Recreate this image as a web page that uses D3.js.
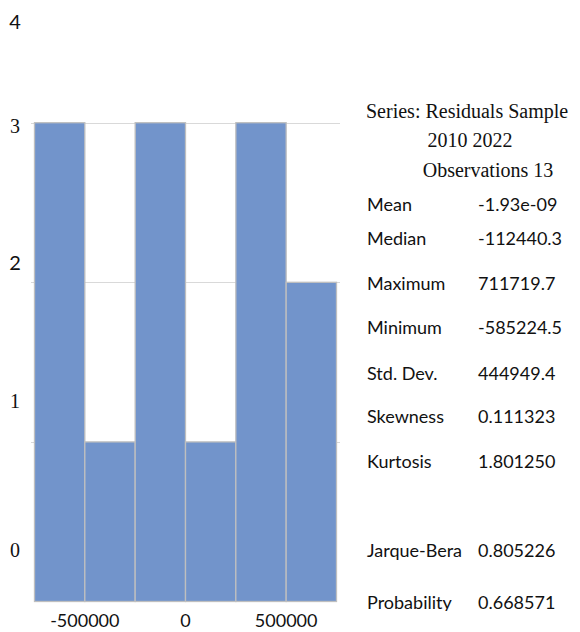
<!DOCTYPE html>
<html>
<head>
<meta charset="utf-8">
<script src="https://d3js.org/d3.v7.min.js"></script>
<style>
  body { margin: 0; background: #fff; }
  svg { display: block; }
</style>
</head>
<body>
<script>
// histogram of residuals
var binEdges = [-750000, -500000, -250000, 0, 250000, 500000, 750000];
var counts = [3, 1, 3, 1, 3, 2];
var yTicks = [0, 1, 2, 3, 4];
var xTicks = [-500000, 0, 500000];

// stats panel
var headerLines = ["Series: Residuals Sample", "2010 2022", "Observations 13"];
var statLabels = ["Mean", "Median", "Maximum", "Minimum", "Std. Dev.", "Skewness", "Kurtosis", "Jarque-Bera", "Probability"];
var statValues = ["-1.93e-09", "-112440.3", "711719.7", "-585224.5", "444949.4", "0.111323", "1.801250", "0.805226", "0.668571"];

var w = 580, h = 632;
var sans = "Lato, 'Open Sans', sans-serif";
var serif = "'Liberation Serif', 'Times New Roman', serif";

var svg = d3.select("body").append("svg").attr("width", w).attr("height", h);

var bins = counts.map((c, i) => ({ x0: binEdges[i], x1: binEdges[i + 1], n: c }));

var x = d3.scaleLinear().domain([binEdges[0], binEdges[binEdges.length - 1]]).range([34.5, 336.5]);
var y = d3.scaleLinear().domain([0, 3]).range([601.5, 122.7]);
// the tick labels sit on their own (uneven) spacing in the source image
var yLabel = d3.scaleLinear().domain(yTicks).range([557, 408, 270, 133, 29]);

// gridlines
svg.append("g").selectAll("line")
    .data(yTicks.filter(d => d > 0 && d <= 3))
    .enter().append("line")
    .attr("x1", 31).attr("x2", 340)
    .attr("y1", d => Math.round(y(d)) + 0.5)
    .attr("y2", d => Math.round(y(d)) + 0.5)
    .attr("stroke", "#d9d9d9")
    .attr("stroke-width", 1);

// bars
svg.append("g").selectAll("rect")
    .data(bins)
    .enter().append("rect")
    .attr("x", d => x(d.x0))
    .attr("width", d => x(d.x1) - x(d.x0))
    .attr("y", d => y(d.n))
    .attr("height", d => y(0) - y(d.n))
    .attr("fill", "#7294cb")
    .attr("stroke", "#bfbfbf")
    .attr("stroke-width", 1.3);

// y labels (mixed fonts as in the original)
svg.append("g").selectAll("text")
    .data(yTicks)
    .enter().append("text")
    .attr("x", 15)
    .attr("y", d => yLabel(d))
    .attr("text-anchor", "middle")
    .style("font-family", d => (d == 2 || d == 4) ? sans : serif)
    .style("font-size", "20px")
    .attr("fill", "#111")
    .text(d => d);

// x labels
svg.append("g").selectAll("text")
    .data(xTicks)
    .enter().append("text")
    .attr("x", d => x(d))
    .attr("y", 627)
    .attr("text-anchor", "middle")
    .style("font-family", sans)
    .style("font-size", "18px")
    .attr("fill", "#111")
    .text(d => d);

// stats panel
var clip = svg.append("defs").append("clipPath").attr("id", "panelClip");
clip.append("rect").attr("x", 350).attr("y", 80).attr("width", 230).attr("height", 531);

var panel = svg.append("g").attr("clip-path", "url(#panelClip)");

var headerPos = [{ x: 366, y: 118, a: "start" }, { x: 470, y: 147, a: "middle" }, { x: 488, y: 177, a: "middle" }];
panel.selectAll(".hdr")
    .data(headerLines)
    .enter().append("text")
    .attr("class", "hdr")
    .attr("x", (d, i) => headerPos[i].x)
    .attr("y", (d, i) => headerPos[i].y)
    .attr("text-anchor", (d, i) => headerPos[i].a)
    .style("font-family", serif)
    .style("font-size", "20px")
    .attr("fill", "#111")
    .text(d => d);

var rowY = [211, 245, 290, 334, 380, 423, 468, 557, 609];
var rows = panel.selectAll(".row")
    .data(statLabels)
    .enter().append("g")
    .attr("class", "row")
    .attr("transform", (d, i) => "translate(0," + rowY[i] + ")");

rows.append("text")
    .attr("x", 367)
    .style("font-family", sans)
    .style("font-size", "18px")
    .attr("fill", "#111")
    .text(d => d);

rows.append("text")
    .attr("x", 478)
    .style("font-family", sans)
    .style("font-size", "18px")
    .attr("fill", "#111")
    .text((d, i) => statValues[i]);
</script>
</body>
</html>
